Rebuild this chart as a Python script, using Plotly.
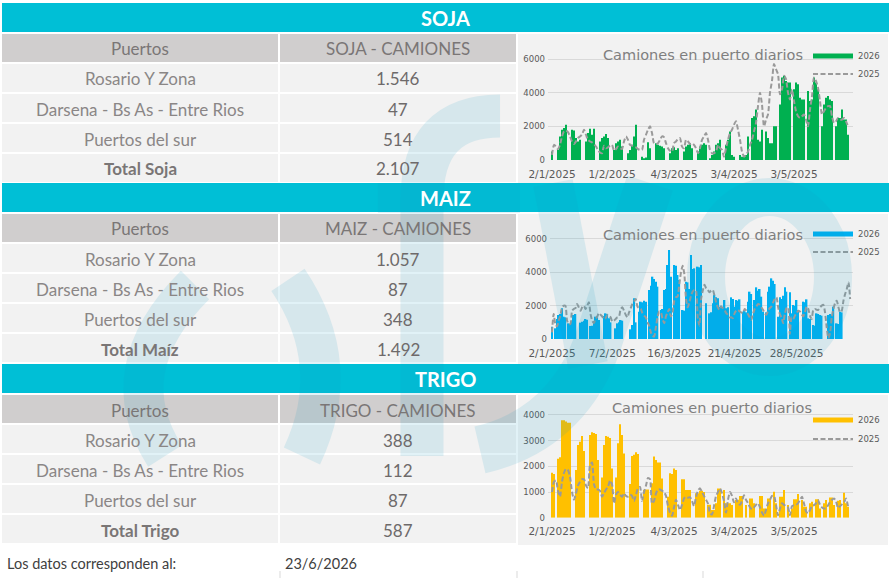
import pandas as pd
import plotly.graph_objects as go

W, H = 891, 578

# ---------------- data ----------------
puertos = ["Rosario Y Zona", "Darsena - Bs As - Entre Rios", "Puertos del sur"]

soja_tabla = ["1.546", "47", "514", "2.107"]
maiz_tabla = ["1.057", "87", "348", "1.492"]
trigo_tabla = ["388", "112", "87", "587"]

fecha_datos = "23/6/2026"

soja_2026 = [
    500, 0, 0, 600, 1400, 1800, 1900,
    2100, 0, 0, 1800, 1750, 1300, 1100,
    1200, 0, 0, 1100, 1600, 1850, 1500,
    1850, 0, 0, 1100, 1300, 1400, 1550,
    1300, 0, 0, 600, 1000, 1100, 1200,
    800, 0, 0, 400, 600, 900, 1400,
    2100, 0, 0, 200, 100, 150, 1050,
    700, 0, 0, 1000, 900, 850, 800,
    700, 0, 0, 400, 700, 750, 600,
    700, 0, 0, 500, 800, 900, 1000,
    700, 0, 0, 500, 800, 900, 1000,
    900, 0, 100, 300, 500, 900, 1000,
    1200, 0, 0, 900, 1200, 1700, 300,
    200, 0, 0, 300, 200, 250, 300,
    1400, 0, 2500, 2600, 3000, 1200, 1100,
    1800, 0, 1700, 1300, 1000, 1000, 2000,
    2000, 0, 3300, 4900, 5000, 4700, 4600,
    4600, 0, 4200, 4600, 4500, 3700, 3600,
    3600, 0, 4100, 3500, 3600, 4900, 4600,
    4200, 0, 2000, 3300, 3700, 3800, 3600,
    3500, 0, 2000, 2500, 2500, 3000, 2400,
    2400, 1500,
]
soja_2025 = [
    300, 900, 800, 650, 900, 1400, 1700,
    1750, 1650, 1400, 1100, 950, 1100, 1300,
    1400, 1500, 1800, 1500, 1200, 1100, 1050,
    950, 800, 600, 450, 400, 850, 700,
    750, 850, 900, 550, 650, 800, 700,
    650, 1100, 1400, 1200, 900, 850, 800,
    750, 650, 600, 600, 1200, 1500, 1800,
    2000, 1600, 1000, 950, 1000, 1200, 1400,
    1350, 1000, 700, 550, 500, 1000, 1100,
    1250, 1300, 800, 700, 1200, 1100, 950,
    1000, 900, 700, 400, 700, 1200, 1400,
    1600, 1200, 600, 400, 400, 500, 900,
    700, 600, 200, 700, 1200, 1600, 1800,
    2100, 2300, 1800, 1200, 500, 200, 300,
    500, 900, 1200, 1700, 2200, 3200, 4000,
    3300, 2000, 2400, 2700, 4000, 4700, 5700,
    5400, 5100, 3900, 4200, 5000, 4800, 4000,
    3600, 4200, 3500, 2900, 2600, 2500, 2600,
    2700, 2400, 2000, 3000, 3800, 4900, 4700,
    4300, 3500, 2700, 2900, 3100, 3200, 3200,
    2600, 2200, 2300, 2500, 2400, 2400, 2500,
    2300, 2000,
]

maiz_2026 = [
    740, 0, 640, 1200, 1440, 1500, 1840,
    1340, 1300, 0, 940, 900, 1100, 1440,
    1500, 0, 0, 980, 1040, 1100, 1200,
    1150, 0, 780, 800, 1000, 1340, 1300,
    1140, 0, 0, 1380, 1540, 1500, 1240,
    1000, 0, 0, 640, 940, 1000, 1140,
    1100, 0, 0, 0, 0, 580, 840,
    2440, 1000, 0, 1640, 2240, 2200, 2300,
    2240, 0, 2940, 3200, 3740, 3600, 3440,
    3140, 0, 1740, 1800, 2940, 3000, 4440,
    5340, 3740, 0, 4440, 4400, 3840, 3540,
    0, 1740, 1700, 3440, 3400, 3000, 5040,
    4200, 4240, 0, 4340, 4300, 4440, 0,
    0, 2140, 0, 1540, 1600, 2140, 2640,
    2500, 2440, 1940, 2000, 1900, 2340, 1840,
    1900, 0, 2500, 2400, 1940, 2340, 2300,
    2380, 0, 1640, 1700, 1600, 2240, 2840,
    2700, 0, 2340, 3100, 2900, 3000, 2540,
    1640, 0, 1600, 2840, 3140, 3640, 3500,
    3300, 0, 1340, 2500, 2400, 2600, 3100,
    2840, 0, 2800, 1540, 2040, 2000, 2340,
    1740, 0, 0, 2240, 2200, 2380, 1240,
    1200, 0, 840, 800, 1540, 1500, 1440,
    1400, 0, 0, 0, 1440, 1500, 1400,
    1940, 0, 940, 900, 1640, 1600,
]
maiz_2025 = [
    400, 1500, 900, 750, 1100, 1400, 1900,
    2000, 2000, 1100, 900, 900, 1700, 1800,
    1850, 2100, 1900, 1700, 1900, 2000, 1800,
    2000, 2200, 1500, 1100, 950, 1200, 1350,
    1550, 1450, 1350, 1200, 1250, 1450, 1400,
    1300, 1050, 1100, 1200, 1300, 1340, 1800,
    1900, 1700, 1450, 1300, 1600, 1850, 2100,
    2250, 2400, 1950, 1850, 1800, 1550, 1400,
    1300, 1000, 800, 400, 200, 150, 700,
    1300, 1650, 1600, 1200, 950, 1350, 1600,
    1800, 1350, 1600, 2300, 2500, 2550, 3300,
    4000, 4400, 3900, 2400, 1900, 2200, 2600,
    2850, 2950, 2900, 1300, 800, 2400, 2900,
    3250, 3050, 2950, 2800, 2900, 2950, 2600,
    2200, 1900, 1750, 1950, 1850, 1750, 1550,
    1450, 1300, 1300, 1250, 1550, 1700, 1750,
    1650, 1600, 1550, 1800, 1700, 1500, 1300,
    1150, 1500, 1800, 1950, 2100, 2050, 1900,
    1750, 1550, 1450, 1700, 1850, 1950, 2200,
    2400, 2500, 1900, 1500, 1300, 950, 1500,
    1850, 1900, 300, 1300, 1200, 1400, 1550,
    1700, 1650, 1500, 1350, 1600, 1950, 1800,
    1400, 1200, 1750, 1800, 1750, 1750, 1900,
    2000, 2050, 1600, 700, 50, 350, 1300,
    1800, 2150, 2300, 1900, 1600, 1700, 2300,
    2700, 3000, 3400, 2400,
]

trigo_2026 = [
    1750, 1700, 0, 2300, 2350, 3800, 3800,
    3750, 3700, 3700, 0, 0, 1860, 2830,
    2960, 3180, 2600, 0, 0, 3220, 3330,
    3300, 3260, 2250, 0, 1570, 2830, 3180,
    3150, 3100, 1920, 0, 1570, 2900, 3640,
    3220, 2500, 0, 0, 1310, 2400, 2450,
    2550, 2480, 0, 0, 1080, 1100, 1100,
    0, 1340, 2380, 2250, 2150, 2150, 1530,
    0, 0, 820, 1730, 1700, 1920, 1860,
    0, 0, 1500, 1500, 1080, 1080, 1080,
    0, 0, 950, 950, 1050, 1050, 1000,
    0, 500, 500, 300, 300, 560, 1140,
    1140, 0, 1080, 560, 560, 560, 490,
    0, 690, 700, 850, 850, 0, 490,
    0, 750, 750, 560, 0, 0, 850,
    850, 360, 360, 750, 750, 0, 1010,
    560, 0, 820, 820, 1080, 0, 490,
    0, 360, 720, 720, 920, 0, 690,
    430, 430, 0, 560, 620, 0, 720,
    720, 360, 0, 560, 690, 0, 790,
    790, 490, 0, 660, 690, 0, 975,
    560, 430,
]
trigo_2025 = [
    1000, 1400, 1450, 1050, 820, 1400, 1750,
    1900, 1850, 1600, 1000, 700, 950, 1250,
    1400, 1500, 1500, 1250, 1150, 2050, 2150,
    1300, 1100, 1100, 1050, 820, 950, 1100,
    1200, 1450, 1300, 560, 900, 1000, 900,
    820, 950, 850, 820, 900, 850, 650,
    900, 1150, 1200, 650, 1000, 1250, 1550,
    1500, 550, 650, 950, 1100, 1100, 1050,
    1000, 850, 450, 200, 80, 400, 700,
    500, 300, 500, 750, 820, 780, 800,
    650, 450, 800, 1050, 1150, 1000, 850,
    700, 550, 170, 120, 450, 850, 1000,
    1140, 950, 650, 200, 700, 1000, 850,
    600, 750, 550, 500, 650, 870, 700,
    560, 400, 330, 400, 500, 560, 400,
    200, 80, 300, 560, 700, 850, 850,
    500, 100, 360, 560, 500, 450, 400,
    100, 450, 490, 500, 560, 690, 820,
    550, 250, 170, 300, 450, 490, 560,
    690, 500, 400, 360, 360, 480, 600,
    700, 750, 650, 380, 450, 520, 600,
    750, 450,
]

inicio = pd.Timestamp("2025-01-02")
ticks_mensual = ["2025-01-02", "2025-02-01", "2025-03-04", "2025-04-03", "2025-05-03"]
labels_mensual = ["2/1/2025", "1/2/2025", "4/3/2025", "3/4/2025", "3/5/2025"]
ticks_maiz = ["2025-01-02", "2025-02-07", "2025-03-16", "2025-04-21", "2025-05-28"]
labels_maiz = ["2/1/2025", "7/2/2025", "16/3/2025", "21/4/2025", "28/5/2025"]

# ---------------- helpers ----------------
def px(x):
    return x / W


def py(y):
    return 1 - y / H


TXT = "#7A7676"
CYAN = "#00BFD6"
CHART_FONT = "DejaVu Sans"

shapes = []
annotations = []


def rect(x0, y0, x1, y1, color, layer="below"):
    shapes.append(dict(type="rect", xref="paper", yref="paper", layer=layer,
                       x0=px(x0), x1=px(x1), y0=py(y1), y1=py(y0),
                       fillcolor=color, line=dict(width=0)))


def text(x, y, s, size=17, color=TXT, bold=False, family="Lato", xanchor="center"):
    annotations.append(dict(xref="paper", yref="paper", x=px(x), y=py(y), text=s,
                            showarrow=False, xanchor=xanchor, yanchor="middle",
                            font=dict(family=family, size=size, color=color,
                                      weight="bold" if bold else "normal")))


secciones = [
    dict(titulo="SOJA", col="SOJA - CAMIONES", total="Total Soja", vals=soja_tabla,
         top=3, b26=soja_2026, b25=soja_2025, color="#00B050",
         tv=ticks_mensual, tt=labels_mensual, yt=[0, 2000, 4000, 6000], ymax=6500,
         zero=160, ppu=101 / 6000, xl=548, xr=853, ppd=2.0,
         tit=(703, 55), leg=(56, 74)),
    dict(titulo="MAIZ", col="MAIZ - CAMIONES", total="Total Maíz", vals=maiz_tabla,
         top=183, b26=maiz_2026, b25=maiz_2025, color="#00B0F0",
         tv=ticks_maiz, tt=labels_maiz, yt=[0, 2000, 4000, 6000], ymax=6500,
         zero=339, ppu=100 / 6000, xl=550, xr=853, ppd=1.675,
         tit=(703, 235), leg=(234, 252)),
    dict(titulo="TRIGO", col="TRIGO - CAMIONES", total="Total Trigo", vals=trigo_tabla,
         top=364, b26=trigo_2026, b25=trigo_2025, color="#FFC000",
         tv=ticks_mensual, tt=labels_mensual, yt=[0, 1000, 2000, 3000, 4000], ymax=4300,
         zero=517.7, ppu=102.7 / 4000, xl=548, xr=853, ppd=2.0,
         tit=(712, 408), leg=(420, 439)),
]

fig = go.Figure()
layout_axes = {}

for n, s in enumerate(secciones, start=1):
    t = s["top"]
    # band + table
    rect(2, t, 889, t + 29, CYAN)
    text(445, t + 15, s["titulo"], size=20, color="white", bold=True)
    rect(2, t + 31, 278, t + 59, "#D0CECE")
    rect(280, t + 31, 516, t + 59, "#D0CECE")
    text(140, t + 46, "Puertos", size=17)
    text(398, t + 46, s["col"], size=17)
    filas = puertos + [s["total"]]
    for k, (nombre, valor) in enumerate(zip(filas, s["vals"])):
        y0 = t + 61 + 30 * k
        rect(2, y0, 278, y0 + 28, "#F2F2F2")
        rect(280, y0, 516, y0 + 28, "#F2F2F2")
        last = k == 3
        text(140, y0 + 15, nombre, size=17, color="#8A8686" if not last else TXT, bold=last)
        text(398, y0 + 15, valor, size=17, color="#6E6A6A")
    # chart panel
    rect(518, t + 31, 888, t + 181, "#F2F2F2")

    fechas26 = pd.date_range(inicio, periods=len(s["b26"]), freq="D")
    fechas25 = pd.date_range(inicio, periods=len(s["b25"]), freq="D")
    sfx = "" if n == 1 else str(n)
    fig.add_trace(go.Bar(x=fechas26, y=s["b26"], marker=dict(color=s["color"], line=dict(width=0)),
                         xaxis="x" + sfx, yaxis="y" + sfx, showlegend=False, name="2026"))
    fig.add_trace(go.Scatter(x=fechas25, y=s["b25"], mode="lines",
                             line=dict(color="#9A9A9A", width=2, dash="5px,2.5px", shape="spline", smoothing=0.6),
                             xaxis="x" + sfx, yaxis="y" + sfx, showlegend=False, name="2025"))

    d_start = inicio - pd.Timedelta(days=(552 - s["xl"]) / s["ppd"])
    d_end = inicio + pd.Timedelta(days=(s["xr"] - 552) / s["ppd"])
    top_px = s["zero"] - s["ymax"] * s["ppu"]
    layout_axes["xaxis" + sfx] = dict(
        domain=[px(s["xl"]), px(s["xr"])], range=[d_start, d_end], type="date",
        tickvals=s["tv"], ticktext=s["tt"], showgrid=False, zeroline=False, showline=False,
        ticks="", ticklabelstandoff=6, anchor="y" + sfx, automargin=False,
        tickfont=dict(family=CHART_FONT, size=10.5, color="#595959"))
    layout_axes["yaxis" + sfx] = dict(
        domain=[py(s["zero"]), py(top_px)], range=[0, s["ymax"]], tickvals=s["yt"],
        showgrid=True, gridcolor="#D9D9D9", gridwidth=1, zeroline=False, showline=False,
        ticks="", anchor="x" + sfx, automargin=False, ticklabelstandoff=2,
        tickfont=dict(family=CHART_FONT, size=8.5, color="#595959"))

    # title + legend
    text(s["tit"][0], s["tit"][1], "Camiones en puerto diarios", size=14.5,
         color="#7F7F7F", family=CHART_FONT)
    ly26, ly25 = s["leg"]
    shapes.append(dict(type="line", xref="paper", yref="paper", layer="above",
                       x0=px(813), x1=px(853), y0=py(ly26), y1=py(ly26),
                       line=dict(color=s["color"], width=5)))
    shapes.append(dict(type="line", xref="paper", yref="paper", layer="above",
                       x0=px(813), x1=px(853), y0=py(ly25), y1=py(ly25),
                       line=dict(color="#9A9A9A", width=2, dash="5px,2.5px")))
    text(856, ly26, "2026", size=8.5, color="#595959", family=CHART_FONT, xanchor="left")
    text(856, ly25, "2025", size=8.5, color="#595959", family=CHART_FONT, xanchor="left")

# footer
text(5, 563, "Los datos corresponden al:", size=14.5, color="#404040", xanchor="left")
text(283, 563, fecha_datos, size=14.5, color="#404040", xanchor="left")
for gx in [280, 517, 703]:
    shapes.append(dict(type="line", xref="paper", yref="paper", layer="below",
                       x0=px(gx), x1=px(gx), y0=py(571), y1=py(578),
                       line=dict(color="#D9D9D9", width=1)))


# watermark logo (pale translucent strokes)
def wm_path(segs):
    out = []
    for cmd, pts in segs:
        out.append(cmd + " ".join(f"{px(x):.4f},{py(y):.4f}" for x, y in pts))
    return " ".join(out)


WM = "rgb(20,155,195)"
trazos = [
    ([("M", [(195, 285)]), ("Q", [(110, 370), (165, 456)])], 40),
    ([("M", [(288, 280)]), ("Q", [(345, 365), (302, 456)])], 40),
    ([("M", [(422, 456)]), ("L", [(422, 200)]), ("Q", [(422, 116), (500, 116)])], 43),
    ([("M", [(378, 198)]), ("L", [(520, 198)])], 30),
    ([("M", [(553, 183)]), ("L", [(588, 365)])], 40),
    ([("M", [(650, 183)]), ("L", [(597, 345)]), ("Q", [(565, 430), (480, 450)])], 48),
]
for segs, wdt in trazos:
    shapes.append(dict(type="path", xref="paper", yref="paper", layer="above",
                       path=wm_path(segs), opacity=0.12,
                       line=dict(color=WM, width=wdt)))
shapes.append(dict(type="circle", xref="paper", yref="paper", layer="above",
                   x0=px(706), x1=px(833), y0=py(357), y1=py(197), opacity=0.12,
                   line=dict(color=WM, width=38)))

fig.update_layout(
    template="none",
    width=W, height=H, autosize=False,
    margin=dict(l=0, r=0, t=0, b=0, pad=0),
    paper_bgcolor="white", plot_bgcolor="rgba(0,0,0,0)",
    bargap=0.05, showlegend=False,
    shapes=shapes, annotations=annotations,
    **layout_axes,
)

# the page body has a default 8px margin; drop it so the figure sits at 0,0
fig.write_html("out.html", config={"displayModeBar": False},
               post_script="document.body.style.margin = '0px';")
